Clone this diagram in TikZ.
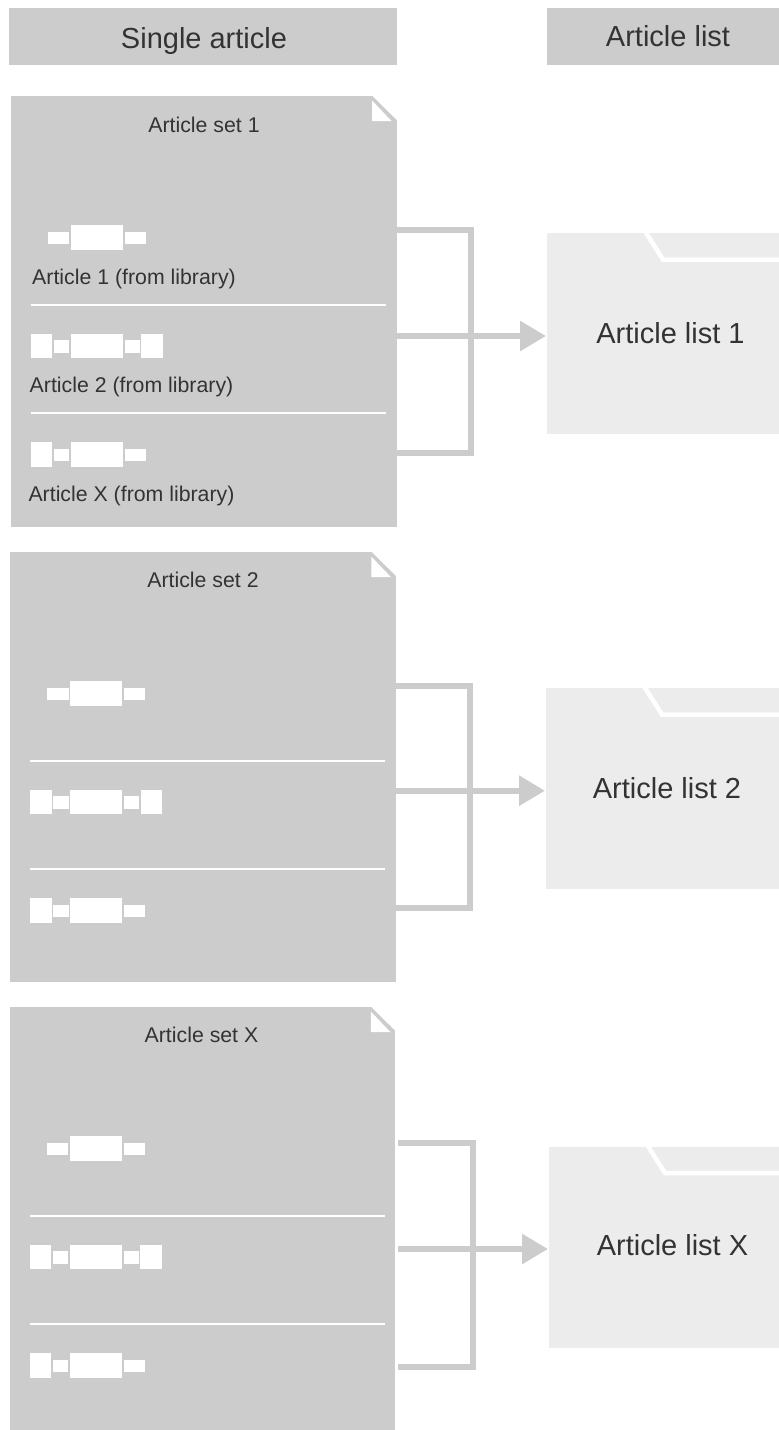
\documentclass[tikz,border=0pt]{standalone}
\usepackage{fontspec}
\setmainfont{Liberation Sans}
\usetikzlibrary{arrows.meta}
\definecolor{panelgrey}{HTML}{CCCCCC}
\definecolor{foldergrey}{HTML}{ECECEC}
\definecolor{inkgrey}{HTML}{333333}
\tikzset{
  headbox/.style={fill=panelgrey,inner sep=0pt,minimum height=57pt,anchor=north west},
  panelbox/.style={fill=panelgrey,inner sep=0pt,anchor=north west},
  folderbox/.style={fill=foldergrey,inner sep=0pt,minimum height=201pt,anchor=north west},
  bigtext/.style={text=inkgrey,inner sep=0pt,anchor=base,font=\fontsize{29}{32}\selectfont},
  smalltext/.style={text=inkgrey,inner sep=0pt,anchor=base,font=\fontsize{21.3}{24}\selectfont},
  whitebit/.style={fill=white,draw=none},
  divider/.style={draw=white,line width=1.4pt},
  foldline/.style={draw=white,line width=4.5pt,miter limit=10},
  busline/.style={draw=panelgrey,line width=6pt},
  busarrow/.style={draw=panelgrey,line width=6pt,-{Triangle[length=26pt,width=29pt]},shorten >=1pt}
}
% id, dx, dy, height
\newcommand{\setpanel}[4]{%
  \begin{scope}[shift={(#2,#3)}]
    \node[panelbox,minimum width=385.6pt,minimum height=#4pt] (#1) at (10.7,96) {};
    \fill[white] (372,95.5) -- (396.8,95.5) -- (396.8,120) -- cycle;
    \fill[white] (372,100.5) -- (372,121) -- (391.5,121) -- cycle;
    % row 1
    \fill[whitebit] (47.7,231.7) rectangle (69.3,244);
    \fill[whitebit] (71,225) rectangle (123,249.7);
    \fill[whitebit] (125,231.7) rectangle (146,244);
    \draw[divider] (31,305) -- (386,305);
    % row 2
    \fill[whitebit] (31,334) rectangle (52.3,358);
    \fill[whitebit] (53.8,340) rectangle (69.3,352.5);
    \fill[whitebit] (71,334) rectangle (123,358);
    \fill[whitebit] (125,340) rectangle (140,352.5);
    \fill[whitebit] (141.2,334) rectangle (162.8,358);
    \draw[divider] (31,413) -- (386,413);
    % row 3
    \fill[whitebit] (31,442) rectangle (52.3,467);
    \fill[whitebit] (53.8,449) rectangle (69.3,461);
    \fill[whitebit] (71,442) rectangle (123,467);
    \fill[whitebit] (125,449) rectangle (146,461);
  \end{scope}%
}
% id, x, y
\newcommand{\setfolder}[3]{%
  \begin{scope}[shift={(#2,#3)}]
    \node[folderbox,minimum width={(779-#2)*1pt}] (#1) at (0,0) {};
    \draw[foldline] (98.5,-1) -- (116,26.5) -- (779-#2,26.5);
  \end{scope}%
}
% id, panel, folder, xjoin, ytop, ymid, ybot, start gap
\newcommand{\setbus}[8]{%
  \coordinate (#1t) at (#4,#5);
  \coordinate (#1m) at (#4,#6);
  \coordinate (#1b) at (#4,#7);
  \draw[busline,shorten <=#8pt,shorten >=#8pt] (#2.east |- #1t) -- (#1t) -- (#1b) -- (#2.east |- #1b);
  \draw[busarrow,shorten <=#8pt] (#2.east |- #1m) -- (#3.west |- #1m);
}
\begin{document}
\begin{tikzpicture}[x=1pt,y=-1pt]
\useasboundingbox (0,0) rectangle (779,1430);

\node[headbox,minimum width=388pt] (hleft) at (9,8) {};
\node[headbox,minimum width=232pt] (hright) at (547,8) {};
\node[bigtext] (hlefttext) at (204,48) {Single article};
\node[bigtext] (hrighttext) at (668,46) {Article list};

\setpanel{pa}{0}{0}{431}
\setpanel{pb}{-0.7}{456}{430}
\setpanel{pc}{-1.2}{911}{423}

\setfolder{fa}{547}{233}
\setfolder{fb}{546}{688}
\setfolder{fc}{549}{1146.5}

\setbus{ba}{pa}{fa}{471}{230}{336}{453}{0}
\setbus{bb}{pb}{fb}{470}{685.5}{790.7}{908}{0}
\setbus{bc}{pc}{fc}{472.7}{1143}{1249}{1366.7}{2.5}

\node[smalltext] (ta) at (204,132) {Article set 1};
\node[smalltext] (aa) at (134,284) {Article 1 (from library)};
\node[smalltext] (ab) at (131.5,392.7) {Article 2 (from library)};
\node[smalltext] (ac) at (131.5,501.7) {Article X (from library)};
\node[smalltext] (tb) at (203,587) {Article set 2};
\node[smalltext] (tc) at (201.5,1042) {Article set X};

\node[bigtext] (la) at (670.5,343) {Article list 1};
\node[bigtext] (lb) at (667,798) {Article list 2};
\node[bigtext] (lc) at (672.5,1255) {Article list X};
\end{tikzpicture}
\end{document}
